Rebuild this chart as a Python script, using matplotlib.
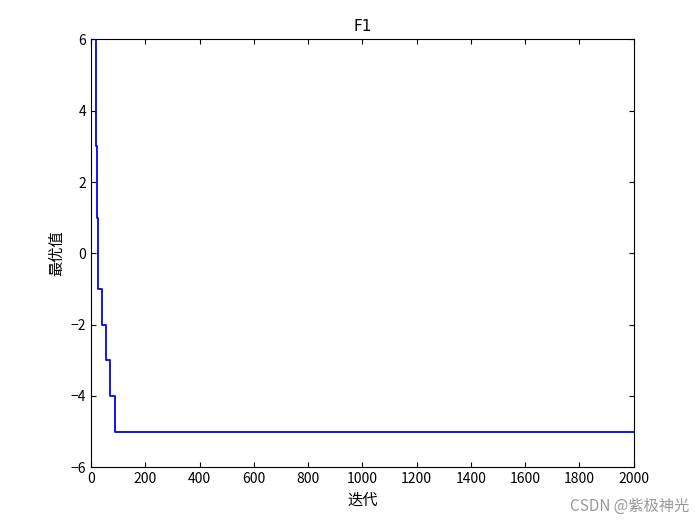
import matplotlib.pyplot as plt
import numpy as np

plt.rcParams['font.family'] = ['Noto Sans CJK SC', 'DejaVu Sans']

# iteration where best value changes, and the value from there on
change_iter = [1, 18, 22, 24, 25, 39, 54, 70, 88]
best_val = [6, 3, 1, 0, -1, -2, -3, -4, -5]

fig = plt.figure(figsize=(7, 5.25), dpi=100)
ax = fig.add_axes([0.13, 0.11, 0.775, 0.815])
ax.step(change_iter + [2000], best_val + [-5], where='post', color='#0000ff', lw=1.3)
ax.set_xlim(0, 2000)
ax.set_ylim(-6, 6)
ax.set_xticks(np.arange(0, 2001, 200))
ax.set_yticks(np.arange(-6, 7, 2))
ax.tick_params(direction='in', top=True, right=True, labelsize=10)
ax.set_title('F1', fontsize=11, family='DejaVu Sans')
ax.set_xlabel('迭代', fontsize=11)
ax.set_ylabel('最优值', fontsize=11)
fig.text(0.985, 0.02, 'CSDN @紫极神光', ha='right', va='bottom', fontsize=11, color='#999999')
fig.savefig('out.png')
